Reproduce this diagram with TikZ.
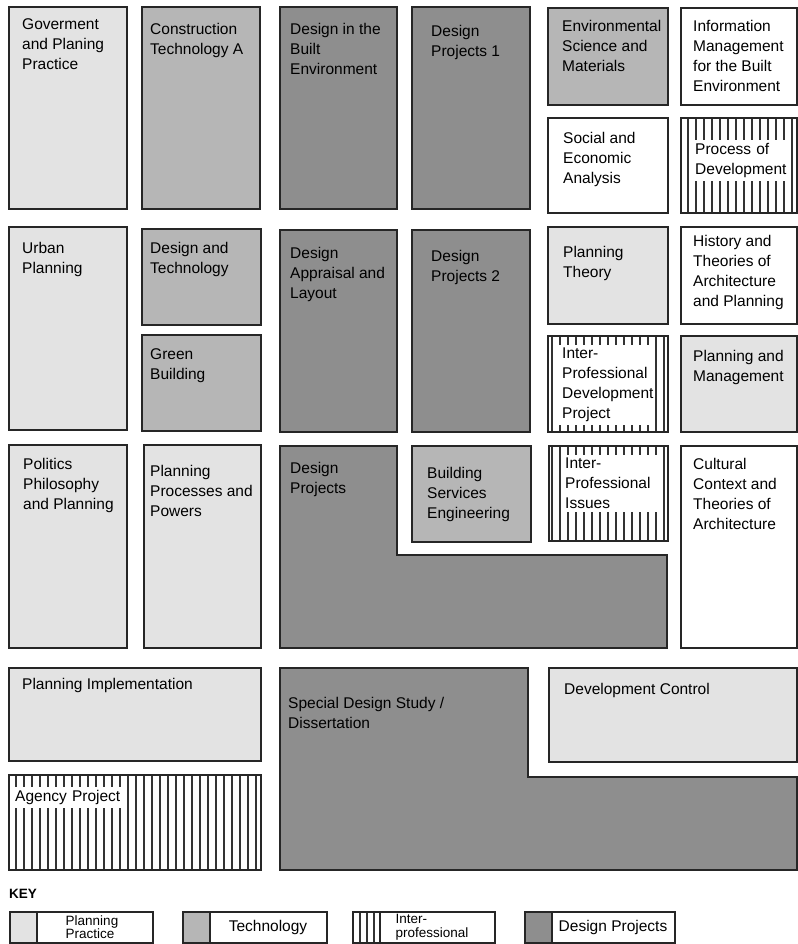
\documentclass[tikz,border=0pt]{standalone}
\usepackage{fontspec}
\setmainfont{Liberation Sans}
\definecolor{plangrey}{HTML}{E3E3E3}
\definecolor{techgrey}{HTML}{B6B6B6}
\definecolor{designgrey}{HTML}{8E8E8E}
\newcommand\unitfont{\fontsize{15.5}{20}\selectfont}
\newcommand\keyfont{\fontsize{15.5}{13}\selectfont}
\newcommand\keytwofont{\fontsize{13.5}{13.5}\selectfont}
% name, style, x1, y1, x2, y2, text shift x, text shift y, text
\newcommand\unitbox[9]{
  \draw[#2] (#3,#4) rectangle (#5,#6);
  \node[lbl] (#1) at (#3+#7,#4+#8) {#9};
}
% name, x1, y1, x2, y2, label x, label y, label width, text
\newcommand\hatchbox[9]{
  \begin{scope}
    \clip (#2,#3) rectangle (#4,#5);
    \fill[white] (#2,#3) rectangle (#4,#5);
    \foreach \i in {0,8,...,800} \draw[hatch] (\i,0) -- (\i,944);
  \end{scope}
  \draw[frame] (#2,#3) rectangle (#4,#5);
  \node[lbl,fill=white,inner sep=3pt,text width=#8] (#1) at (#6,#7) {#9};
}

\begin{document}
\begin{tikzpicture}[x=1pt,y=-1pt]
        \tikzstyle{frame}=[draw=black!85,line width=1.6pt]
        \tikzstyle{planning}=[frame,fill=plangrey]
        \tikzstyle{tech}=[frame,fill=techgrey]
        \tikzstyle{design}=[frame,fill=designgrey]
        \tikzstyle{other}=[frame,fill=white]
        \tikzstyle{hatch}=[draw=black!80,line width=1.2pt]
        \tikzstyle{lbl}=[anchor=north west,inner sep=0pt,align=left,font=\unitfont]
        \tikzstyle{keylbl}=[inner sep=0pt,align=left,font=\keyfont]
        \useasboundingbox (0,0) rectangle (797,944);

        \unitbox{gov}{planning}{9}{7}{127}{209}{13}{11}{Goverment\\and Planing\\Practice}
        \unitbox{cta}{tech}{142}{7}{260}{209}{8}{16}{Construction\\Technology A}
        \unitbox{dbe}{design}{280}{7}{397}{209}{10}{16}{Design in the\\Built\\Environment}
        \unitbox{dpa}{design}{412}{7}{530}{209}{19}{18}{Design\\Projects 1}
        \unitbox{esm}{tech}{548}{8}{668}{105}{14}{12}{Environmental\\Science and\\Materials}
        \unitbox{imb}{other}{681}{8}{797}{105}{12}{12}{Information\\Management\\for the Built\\Environment}
        \unitbox{sea}{other}{548}{118}{668}{213}{15}{14}{Social and\\Economic\\Analysis}
        \hatchbox{pod}{681}{118}{797}{213}{692}{140}{92pt}{Process of\\Development}

        \unitbox{urb}{planning}{9}{227}{127}{430}{13}{15}{Urban\\Planning}
        \unitbox{dat}{tech}{142}{229}{261}{325}{8}{13}{Design and\\Technology}
        \unitbox{grb}{tech}{142}{335}{261}{431}{8}{13}{Green\\Building}
        \unitbox{dal}{design}{280}{230}{397}{432}{10}{17}{Design\\Appraisal and\\Layout}
        \unitbox{dpb}{design}{412}{230}{530}{432}{19}{20}{Design\\Projects 2}
        \unitbox{plt}{planning}{548}{227}{668}{324}{15}{19}{Planning\\Theory}
        \unitbox{hta}{other}{681}{227}{797}{324}{12}{8}{History and\\Theories of\\Architecture\\and Planning}
        \hatchbox{ipd}{548}{336}{668}{432}{559}{345}{90pt}{Inter-\\Professional\\Development\\Project}
        \unitbox{pam}{planning}{681}{336}{797}{432}{12}{14}{Planning and\\Management}

        \unitbox{ppp}{planning}{9}{445}{127}{648}{14}{13}{Politics\\Philosophy\\and Planning}
        \unitbox{pps}{planning}{144}{445}{261}{648}{6}{20}{Planning\\Processes and\\Powers}
        \draw[design] (280,446) -- (397,446) -- (397,555) -- (667,555) -- (667,648) -- (280,648) -- cycle;
        \node[lbl] (dpr) at (290,462) {Design\\Projects};
        \unitbox{bse}{tech}{412}{446}{531}{542}{15}{21}{Building\\Services\\Engineering}
        \hatchbox{ipi}{549}{446}{668}{541}{562}{455}{89pt}{Inter-\\Professional\\Issues}
        \unitbox{cct}{other}{681}{446}{797}{648}{12}{12}{Cultural\\Context and\\Theories of\\Architecture}

        \unitbox{pim}{planning}{9}{668}{261}{761}{13}{10}{Planning Implementation}
        \hatchbox{agp}{9}{775}{261}{870}{12}{787}{109pt}{Agency Project}
        \draw[design] (280,668) -- (528,668) -- (528,777) -- (797,777) -- (797,870) -- (280,870) -- cycle;
        \node[lbl] (sds) at (288,697) {Special Design Study /\\Dissertation};
        \unitbox{dvc}{planning}{549}{668}{797}{762}{15}{15}{Development Control}

        \node[anchor=north west,inner sep=0pt,font=\bfseries\fontsize{13.5}{15}\selectfont] (key) at (9,889) {KEY};
        \draw[frame] (10,912) rectangle (153,943);
        \draw[planning] (10,912) rectangle (37,943);
        \node[keylbl,font=\keytwofont] (kplan) at (92,927) {Planning\\Practice};
        \draw[frame] (183,912) rectangle (327,943);
        \draw[tech] (183,912) rectangle (210,943);
        \node[keylbl] (ktech) at (268,927) {Technology};
        \draw[frame] (353,912) rectangle (495,943);
        \foreach \i in {360,367,374} \draw[hatch] (\i,912) -- (\i,943);
        \draw[frame] (353,912) rectangle (380,943);
        \node[keylbl,font=\keytwofont] (kinter) at (432,927) {Inter-\\professional};
        \draw[frame] (525,912) rectangle (675,943);
        \draw[design] (525,912) rectangle (552,943);
        \node[keylbl] (kdesign) at (613,927) {Design Projects};
\end{tikzpicture}
\end{document}
